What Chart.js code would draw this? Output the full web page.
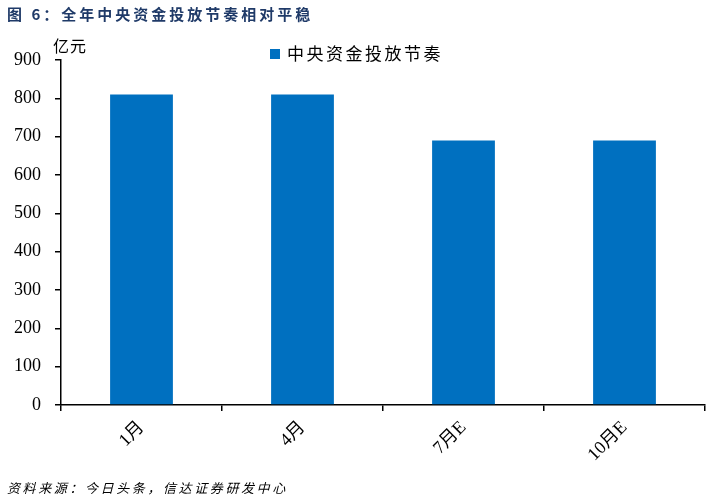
<!DOCTYPE html>
<html>
<head>
<meta charset="utf-8">
<script src="https://cdn.jsdelivr.net/npm/chart.js@4/dist/chart.umd.min.js"></script>
<style>
  html, body { margin: 0; padding: 0; background: #fff; }
  #wrap { position: relative; width: 708px; height: 501px; }
</style>
</head>
<body>
<div id="wrap"><canvas id="fundChart" width="708" height="501"></canvas></div>
<script>
// chart data
const categories = ['1月', '4月', '7月E', '10月E'];
const fundValues = [810, 810, 690, 690];
const yTicks = [0, 100, 200, 300, 400, 500, 600, 700, 800, 900];

const seriesName = '中央资金投放节奏';
const titleText = '图 6：全年中央资金投放节奏相对平稳';
const sourceText = '资料来源：今日头条，信达证券研发中心';
const unitText = '亿元';

const barColor = '#0070C0';
const serif = '"Liberation Serif", "Times New Roman", serif';
const cjk = '"Noto Sans CJK SC", sans-serif';

// Extra text: title, unit, legend, source
const annotations = {
  id: 'annotations',
  afterDraw(chart) {
    const ctx = chart.ctx;
    ctx.save();
    ctx.textBaseline = 'middle';
    ctx.textAlign = 'left';

    ctx.fillStyle = '#1F3A68';
    ctx.font = 'bold 15px ' + cjk;
    ctx.letterSpacing = '3px';
    ctx.fillText(titleText, 7, 14);

    ctx.fillStyle = '#000';
    ctx.font = '16px ' + cjk;
    ctx.letterSpacing = '1px';
    ctx.fillText(unitText, 53, 46);

    // legend
    ctx.fillStyle = barColor;
    ctx.fillRect(270, 49, 10, 10);
    ctx.fillStyle = '#000';
    ctx.font = '17px ' + cjk;
    ctx.letterSpacing = '2.5px';
    ctx.fillText(seriesName, 287, 54);

    ctx.font = 'italic 13px ' + cjk;
    ctx.letterSpacing = '2.6px';
    ctx.fillText(sourceText, 7, 488);
    ctx.letterSpacing = '0px';
    ctx.restore();
  }
};

new Chart(document.getElementById('fundChart'), {
  type: 'bar',
  data: {
    labels: categories,
    datasets: [{
      label: seriesName,
      data: fundValues,
      backgroundColor: barColor,
      borderWidth: 0,
      barPercentage: 0.39,
      categoryPercentage: 1
    }]
  },
  options: {
    responsive: false,
    animation: false,
    devicePixelRatio: 1,
    layout: { padding: { top: 60, right: 3, bottom: 0, left: 0 } },
    plugins: {
      legend: { display: false },
      tooltip: { enabled: false },
      title: { display: false }
    },
    scales: {
      x: {
        grid: {
          offset: true,
          drawOnChartArea: false,
          drawTicks: true,
          tickLength: 6,
          color: '#000',
          lineWidth: 1.5
        },
        border: { display: true, color: '#000', width: 1.5 },
        ticks: {
          color: '#000',
          font: { family: serif + ', ' + cjk, size: 18 },
          minRotation: 45,
          maxRotation: 45,
          padding: 6
        },
        afterFit(scale) { scale.height = 96; }
      },
      y: {
        min: 0,
        max: 900,
        afterBuildTicks(scale) { scale.ticks = yTicks.map(v => ({ value: v })); },
        grid: {
          drawOnChartArea: false,
          drawTicks: true,
          tickLength: 6,
          color: '#000',
          lineWidth: 1.5
        },
        border: { display: true, color: '#000', width: 1.5 },
        ticks: {
          color: '#000',
          font: { family: serif, size: 18 },
          padding: 14
        },
        afterFit(scale) { scale.width = 61; }
      }
    }
  },
  plugins: [annotations]
});
</script>
</body>
</html>
